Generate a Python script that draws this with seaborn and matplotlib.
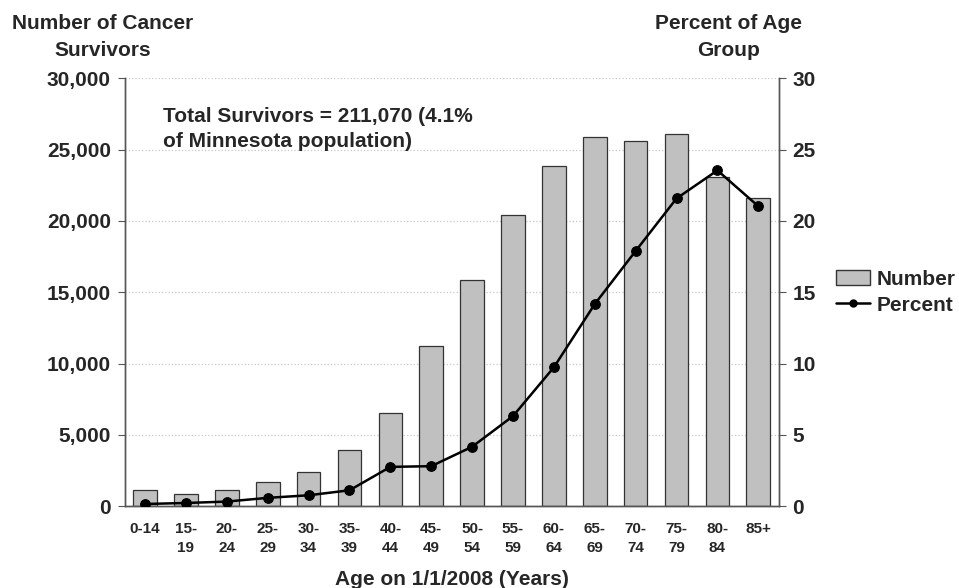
import numpy as np
import matplotlib
matplotlib.use("Agg")
import matplotlib.pyplot as plt
from matplotlib.lines import Line2D
from matplotlib.patches import Patch
from matplotlib.ticker import FuncFormatter, MultipleLocator
import seaborn as sns

# ---- data ----
age_groups = ['0-14', '15-\n19', '20-\n24', '25-\n29', '30-\n34', '35-\n39', '40-\n44', '45-\n49',
              '50-\n54', '55-\n59', '60-\n64', '65-\n69', '70-\n74', '75-\n79', '80-\n84', '85+']
survivors = [1120, 850, 1120, 1730, 2370, 3930, 6510, 11200,
             15830, 20400, 23840, 25880, 25620, 26090, 23090, 21620]
percent = [0.16, 0.23, 0.33, 0.59, 0.77, 1.12, 2.76, 2.81,
           4.17, 6.32, 9.74, 14.17, 17.89, 21.57, 23.54, 21.03]

sns.set_style("white")
plt.rcParams['font.family'] = ['Liberation Sans', 'DejaVu Sans']

FS = 15  # most text in the chart is ~15pt bold

fig = plt.figure(figsize=(9.59, 5.88), dpi=100)
ax = fig.add_axes([0.130, 0.139, 0.682, 0.728])

pos = np.arange(len(age_groups))
sns.barplot(x=pos, y=survivors, color='#c0c0c0', edgecolor='#333333', linewidth=0.9,
            width=0.58, saturation=1, ax=ax, zorder=2)

ax.set_ylim(0, 30000)
ax.set_xlim(-0.5, len(age_groups) - 0.5)
ax.yaxis.set_major_locator(MultipleLocator(5000))
ax.yaxis.set_major_formatter(FuncFormatter(lambda v, p: f"{int(v):,}"))
ax.grid(axis='y', color='#c8c8c8', linestyle=':', linewidth=0.9, zorder=0)
ax.set_axisbelow(True)
ax.set_xticks(pos)
ax.set_xticklabels(age_groups, fontsize=11, fontweight='bold', linespacing=1.5, va='top')
ax.set_xticks(pos[:-1] + 0.5, minor=True)
ax.tick_params(axis='x', which='major', length=0, pad=11)
ax.tick_params(axis='x', which='minor', length=4, direction='in', color='#555555')
ax.tick_params(axis='y', length=5, direction='out', color='#555555', labelsize=FS, pad=5)
for lbl in ax.get_yticklabels():
    lbl.set_fontweight('bold')
ax.set_xlabel('Age on 1/1/2008 (Years)', fontsize=FS, fontweight='bold', labelpad=11)
ax.set_ylabel('')

ax2 = ax.twinx()
sns.lineplot(x=pos, y=percent, color='black', marker='o', markersize=7, linewidth=1.8,
             markeredgecolor='black', ax=ax2, zorder=3)
ax2.set_ylim(0, 30)
ax2.yaxis.set_major_locator(MultipleLocator(5))
ax2.tick_params(axis='y', length=5, direction='out', color='#555555', labelsize=FS, pad=5)
for lbl in ax2.get_yticklabels():
    lbl.set_fontweight('bold')
ax2.set_ylabel('')

for a in (ax, ax2):
    a.spines['top'].set_visible(False)
    for s in ('left', 'right', 'bottom'):
        a.spines[s].set_color('#555555')
        a.spines[s].set_linewidth(1.0)

ax.text(0.058, 0.933, 'Total Survivors = 211,070 (4.1%\nof Minnesota population)',
        transform=ax.transAxes, fontsize=FS, fontweight='bold', va='top', ha='left',
        linespacing=1.42)

fig.text(0.107, 0.976, 'Number of Cancer\nSurvivors', ha='center', va='top',
         fontsize=FS, fontweight='bold', linespacing=1.5)
fig.text(0.760, 0.976, 'Percent of Age\nGroup', ha='center', va='top',
         fontsize=FS, fontweight='bold', linespacing=1.5)

handles = [Patch(facecolor='#c0c0c0', edgecolor='#333333', label='Number'),
           Line2D([0], [0], color='black', marker='o', markersize=5, linewidth=1.8, label='Percent')]
fig.legend(handles=handles, loc='center left', bbox_to_anchor=(0.872, 0.503), frameon=False,
           prop={'size': FS, 'weight': 'bold'}, handlelength=1.6, handletextpad=0.35,
           labelspacing=0.32, borderaxespad=0, borderpad=0)

fig.savefig('out.png', dpi=100)
